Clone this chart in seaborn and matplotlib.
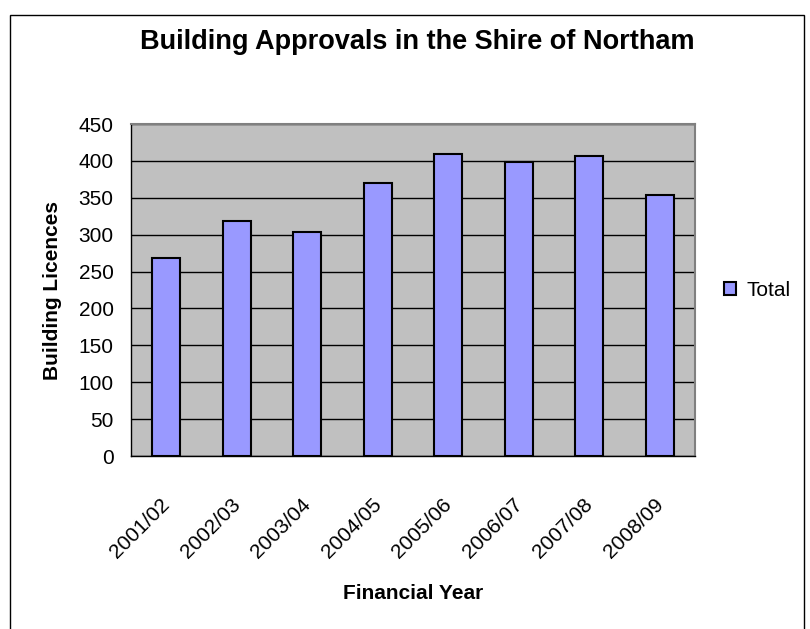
import pandas as pd
import seaborn as sns
import matplotlib.pyplot as plt
from matplotlib.patches import Rectangle
from matplotlib.transforms import ScaledTranslation

years = ["2001/02", "2002/03", "2003/04", "2004/05", "2005/06", "2006/07", "2007/08", "2008/09"]
licences = [268, 318, 304, 370, 409, 398, 406, 354]
y_ticks = [0, 50, 100, 150, 200, 250, 300, 350, 400, 450]

df = pd.DataFrame({"year": years, "licences": licences})

sns.set_style("white")
plt.rcParams['font.family'] = ['Liberation Sans', 'DejaVu Sans']
plt.rcParams['text.color'] = 'black'
plt.rcParams['xtick.color'] = 'black'
plt.rcParams['ytick.color'] = 'black'
plt.rcParams['axes.labelcolor'] = 'black'

fig = plt.figure(figsize=(8.1, 6.29), dpi=100)
ax = fig.add_axes([131/810, 1 - 456/629, (695 - 131)/810, (456 - 124)/629])
ax.set_facecolor("#C0C0C0")

sns.barplot(data=df, x="year", y="licences", color="#9999FF", edgecolor="black",
            linewidth=1.5, width=0.4, saturation=1, label="Total", ax=ax, zorder=3)

ax.set_ylim(0, 450)
ax.set_xlim(-0.5, len(years) - 0.5)
ax.set_yticks(y_ticks)
ax.yaxis.grid(True, color="black", linewidth=1, zorder=0)
ax.set_axisbelow(True)

# ticks between categories, labels under each bar
ax.set_xticks([i - 0.5 for i in range(len(years) + 1)], minor=True)
ax.tick_params(axis="x", which="minor", length=4.5, width=1, color="black", direction="out")
ax.tick_params(axis="x", which="major", length=0, pad=28)
ax.tick_params(axis="y", length=4.5, width=1, color="black", direction="out", labelsize=15, pad=8)
ax.set_xticks(range(len(years)))
ax.set_xticklabels(years, rotation=45, ha="right", rotation_mode="anchor", fontsize=15)
shift = ScaledTranslation(-6/100, 0, fig.dpi_scale_trans)
for lbl in ax.get_xticklabels():
    lbl.set_transform(lbl.get_transform() + shift)

for side in ["left", "bottom"]:
    ax.spines[side].set_color("black")
    ax.spines[side].set_linewidth(1)
for side in ["top", "right"]:
    ax.spines[side].set_color("#808080")
    ax.spines[side].set_linewidth(1.5)

ax.set_xlabel("Financial Year", fontsize=15, fontweight="bold", labelpad=16)
ax.set_ylabel("Building Licences", fontsize=15, fontweight="bold", labelpad=12)
fig.suptitle("Building Approvals in the Shire of Northam", fontsize=19.5, fontweight="bold",
             x=417/810, y=1 - 42/629, va="center")

ax.legend(loc="center left", bbox_to_anchor=(1.018, 0.5), frameon=False, fontsize=15,
          handlelength=0.6, handleheight=0.6, handletextpad=0.5)

fig.patches.append(Rectangle((10/810, -5/629), (804 - 10)/810, (629 + 5 - 15)/629,
                             transform=fig.transFigure, fill=False, edgecolor="black", linewidth=1))

fig.savefig("out.png", dpi=100)
plt.close()
